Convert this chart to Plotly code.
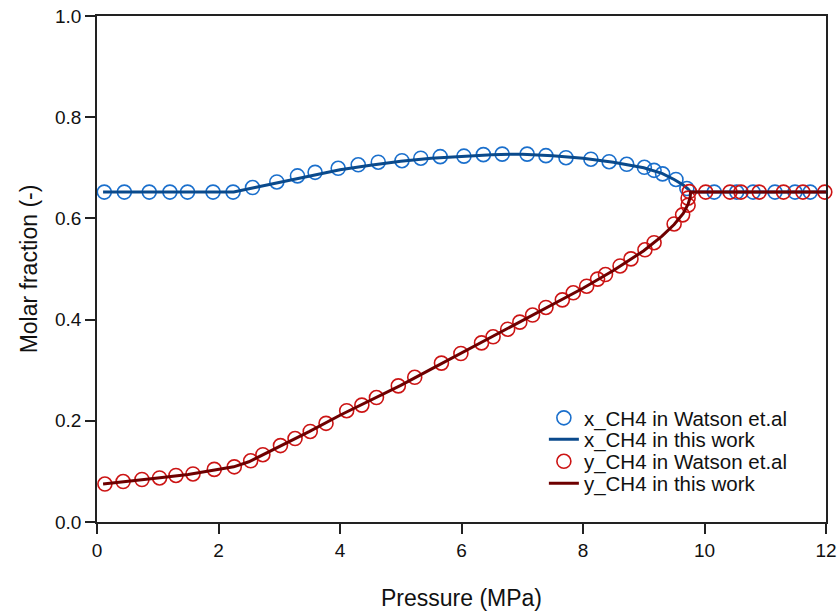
import plotly.graph_objects as go

# Watson et al. experimental data
x_exp_p = [0.12, 0.45, 0.86, 1.20, 1.49, 1.91, 2.24, 2.56, 2.96, 3.30, 3.59, 3.97, 4.30, 4.63,
           5.02, 5.33, 5.65, 6.04, 6.36, 6.67, 7.08, 7.39, 7.72, 8.13, 8.43, 8.72, 9.01, 9.17,
           9.31, 9.53, 9.71, 10.16, 10.53, 10.80, 11.16, 11.49, 11.74]
x_exp_v = [0.652, 0.652, 0.652, 0.652, 0.652, 0.652, 0.652, 0.661, 0.672, 0.684, 0.691, 0.699,
           0.706, 0.711, 0.714, 0.719, 0.722, 0.723, 0.726, 0.727, 0.727, 0.724, 0.720, 0.717,
           0.712, 0.707, 0.701, 0.695, 0.688, 0.677, 0.659, 0.652, 0.652, 0.652, 0.652, 0.652,
           0.652]

y_exp_p = [0.13, 0.43, 0.74, 1.03, 1.30, 1.58, 1.93, 2.26, 2.53, 2.73, 3.02, 3.26, 3.51, 3.77,
           4.11, 4.36, 4.60, 4.96, 5.23, 5.67, 5.99, 6.33, 6.52, 6.76, 6.96, 7.17, 7.39, 7.66,
           7.84, 8.06, 8.24, 8.37, 8.61, 8.79, 9.02, 9.17, 9.50, 9.64, 9.73, 9.73, 9.75,
           10.02, 10.42, 10.60, 10.90, 11.30, 11.62, 11.98]
y_exp_v = [0.075, 0.080, 0.084, 0.087, 0.092, 0.095, 0.104, 0.109, 0.121, 0.133, 0.151, 0.165,
           0.179, 0.195, 0.220, 0.231, 0.246, 0.269, 0.286, 0.314, 0.333, 0.354, 0.366, 0.381,
           0.395, 0.409, 0.424, 0.439, 0.453, 0.466, 0.480, 0.489, 0.506, 0.520, 0.538, 0.552,
           0.589, 0.607, 0.626, 0.640, 0.653, 0.652, 0.652, 0.652, 0.652, 0.652, 0.652, 0.652]

# Model curves (this work)
x_mod_p = [0.1, 2.25, 2.6, 3.0, 3.5, 4.0, 4.5, 5.0, 5.5, 6.0, 6.5, 7.0, 7.5, 8.0, 8.5, 9.0,
           9.3, 9.5, 9.65, 9.73, 9.77, 12.0]
x_mod_v = [0.652, 0.652, 0.661, 0.671, 0.684, 0.696, 0.705, 0.713, 0.719, 0.723, 0.726, 0.727,
           0.724, 0.719, 0.711, 0.700, 0.689, 0.677, 0.666, 0.658, 0.652, 0.652]

y_mod_p = [0.1, 0.5, 1.0, 1.5, 2.0, 2.25, 2.5, 3.0, 3.5, 4.0, 4.5, 5.0, 5.5, 6.0, 6.5, 7.0,
           7.5, 8.0, 8.5, 9.0, 9.3, 9.5, 9.65, 9.73, 9.765, 9.77, 12.0]
y_mod_v = [0.075, 0.080, 0.087, 0.094, 0.103, 0.109, 0.119, 0.149, 0.179, 0.211, 0.240, 0.270,
           0.302, 0.334, 0.365, 0.397, 0.430, 0.462, 0.497, 0.536, 0.565, 0.588, 0.610, 0.628,
           0.642, 0.652, 0.652]

names = ["x_CH4 in Watson et.al", "x_CH4 in this work",
         "y_CH4 in Watson et.al", "y_CH4 in this work"]

FONT = "Liberation Sans, Arial"

fig = go.Figure()
fig.add_trace(go.Scatter(x=x_exp_p, y=x_exp_v, mode="markers", name=names[0], legend="legend",
                         marker=dict(symbol="circle-open", size=14, color="#1a6fcc",
                                     line=dict(width=1.6, color="#1a6fcc")),
                         cliponaxis=False))
fig.add_trace(go.Scatter(x=x_mod_p, y=x_mod_v, mode="lines", name=names[1], legend="legend2",
                         line=dict(color="#0a4a8c", width=3), cliponaxis=False))
fig.add_trace(go.Scatter(x=y_exp_p, y=y_exp_v, mode="markers", name=names[2], legend="legend3",
                         marker=dict(symbol="circle-open", size=14, color="#cc1414",
                                     line=dict(width=1.6, color="#cc1414")),
                         cliponaxis=False))
fig.add_trace(go.Scatter(x=y_mod_p, y=y_mod_v, mode="lines", name=names[3], legend="legend4",
                         line=dict(color="#6e0000", width=3), cliponaxis=False))

axis_common = dict(showline=True, linecolor="#222222", linewidth=1.5, mirror=True,
                   ticks="outside", ticklen=10, tickwidth=1.5, tickcolor="#222222",
                   showgrid=False, zeroline=False, automargin=False,
                   tickfont=dict(family=FONT, size=19, color="#111111"))

def leg(y):
    return dict(x=0.613, y=y, xanchor="left", yanchor="middle",
                bgcolor="rgba(0,0,0,0)", borderwidth=0,
                font=dict(family=FONT, size=20.5, color="#111111"), itemwidth=30)

fig.update_layout(
    width=840, height=612,
    margin=dict(l=97, r=14, t=16, b=90),
    paper_bgcolor="white", plot_bgcolor="white",
    font=dict(family=FONT, color="#111111"),
    xaxis=dict(range=[0, 12], dtick=2, tick0=0,
               title=dict(text="Pressure (MPa)", font=dict(size=23), standoff=30),
               **axis_common),
    yaxis=dict(range=[0, 1], dtick=0.2, tick0=0, tickformat=".1f",
               title=dict(text="Molar fraction (-)", font=dict(size=23), standoff=11),
               **axis_common),
    legend=leg(0.2055),
    legend2=leg(0.163),
    legend3=leg(0.1196),
    legend4=leg(0.0761),
    showlegend=True,
)

fig.write_html("out.html")
